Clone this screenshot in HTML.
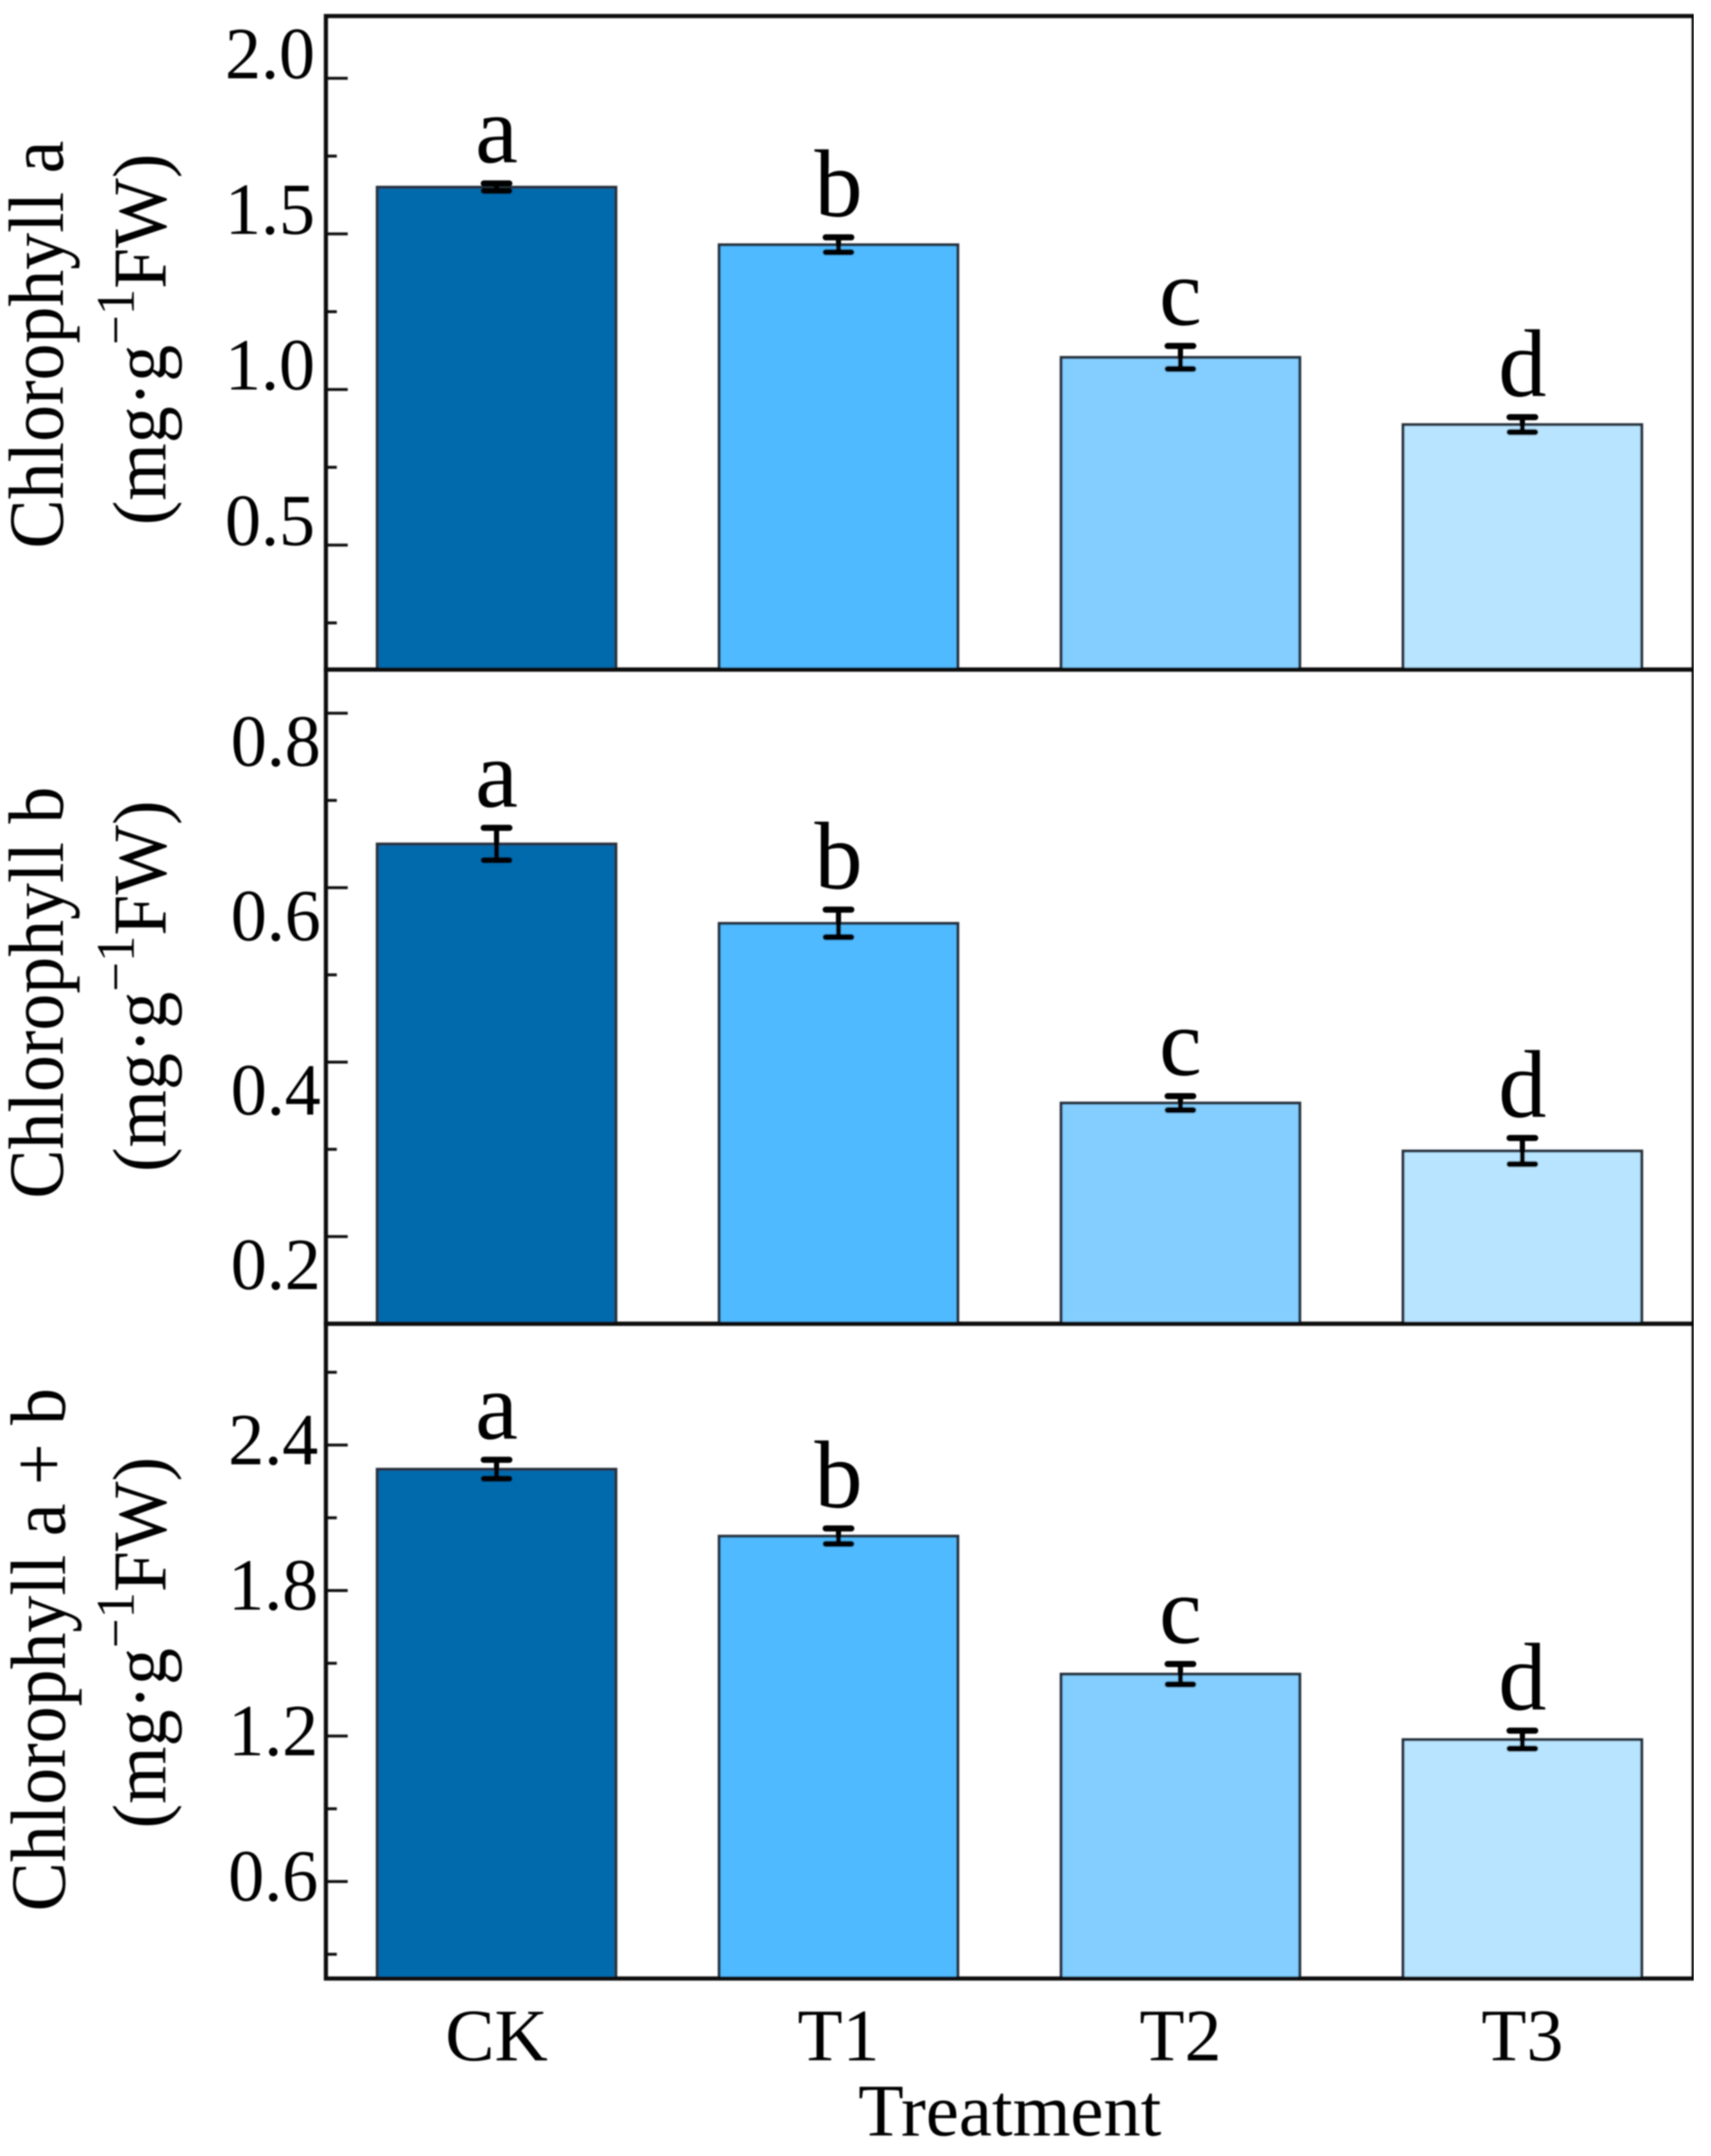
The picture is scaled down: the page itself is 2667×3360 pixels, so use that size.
<!DOCTYPE html>
<html lang="en">
<head>
<meta charset="utf-8">
<title>Chlorophyll content by treatment</title>
<style>
html,body{margin:0;padding:0;background:#fff;}
svg{display:block;}
text{font-family:"Liberation Serif",serif;fill:#000;}
</style>
</head>
<body>
<svg id="chart" xmlns="http://www.w3.org/2000/svg" width="2667" height="3360" viewBox="0 0 2667 3360">
  <defs><filter id="soft" x="0" y="0" width="100%" height="100%"><feGaussianBlur stdDeviation="1"/></filter></defs>
  <rect x="0" y="0" width="2667" height="3360" fill="#fff"/>
  <g filter="url(#soft)">
  <g id="panels"></g>

  <text transform="translate(98,537) rotate(-90) scale(1,1.06)" text-anchor="middle" font-size="115">Chlorophyll a</text>
  <text transform="translate(258,529) rotate(-90) scale(1,1.03)" text-anchor="middle" font-size="115">(mg·g<tspan font-size="82" dy="-48">−1</tspan><tspan dy="48">FW)</tspan></text>

  <text transform="translate(98,1547) rotate(-90) scale(1,1.06)" text-anchor="middle" font-size="115">Chlorophyll b</text>
  <text transform="translate(258,1537) rotate(-90) scale(1,1.03)" text-anchor="middle" font-size="115">(mg·g<tspan font-size="82" dy="-48">−1</tspan><tspan dy="48">FW)</tspan></text>

  <text transform="translate(101,2571) rotate(-90) scale(1,1.06)" text-anchor="middle" font-size="115">Chlorophyll a + b</text>
  <text transform="translate(258,2560) rotate(-90) scale(1,1.03)" text-anchor="middle" font-size="115">(mg·g<tspan font-size="82" dy="-48">−1</tspan><tspan dy="48">FW)</tspan></text>

  <text x="1574" y="3328" text-anchor="middle" font-size="116">Treatment</text>
  </g>
</svg>
<script>
const categories = ['CK', 'T1', 'T2', 'T3'];
const letters = ['a', 'b', 'c', 'd'];

const chlAValues = [1.65, 1.465, 1.103, 0.887];
const chlAErrors = [0.012, 0.024, 0.037, 0.024];
const chlATicks = [0.5, 1.0, 1.5, 2.0];
const chlAMinorTicks = [0.25, 0.75, 1.25, 1.75];
const chlATickLabels = ['0.5', '1.0', '1.5', '2.0'];

const chlBValues = [0.65, 0.559, 0.353, 0.298];
const chlBErrors = [0.0186, 0.0158, 0.008, 0.015];
const chlBTicks = [0.2, 0.4, 0.6, 0.8];
const chlBMinorTicks = [0.3, 0.5, 0.7];
const chlBTickLabels = ['0.2', '0.4', '0.6', '0.8'];

const chlABValues = [2.3, 2.024, 1.455, 1.185];
const chlABErrors = [0.039, 0.032, 0.042, 0.037];
const chlABTicks = [0.6, 1.2, 1.8, 2.4];
const chlABMinorTicks = [0.3, 0.9, 1.5, 2.1, 2.7];
const chlABTickLabels = ['0.6', '1.2', '1.8', '2.4'];

const barColors = ['#006aad', '#4fbaff', '#83ceff', '#b8e4ff'];

const NS = 'http://www.w3.org/2000/svg';
const root = document.getElementById('panels');

const panels = [
  {key:'chlorophyll-a', values:chlAValues, errors:chlAErrors, ticks:chlATicks, minor:chlAMinorTicks, labels:chlATickLabels,
   min:0.1, max:2.2, top:25, bottom:1043.5, labelX:491, labelDy:0},
  {key:'chlorophyll-b', values:chlBValues, errors:chlBErrors, ticks:chlBTicks, minor:chlBMinorTicks, labels:chlBTickLabels,
   min:0.1, max:0.85, top:1043.5, bottom:2063, labelX:500, labelDy:82},
  {key:'chlorophyll-a-plus-b', values:chlABValues, errors:chlABErrors, ticks:chlABTicks, minor:chlABMinorTicks, labels:chlABTickLabels,
   min:0.2, max:2.9, top:2063, bottom:3083.4, labelX:496, labelDy:30}
];

const AXIS_L = 508, AXIS_R = 2640;
const BAR_W = 372;
const xCenter = i => 774 + i * 533;

function make(tag, attrs, parent) {
  const el = document.createElementNS(NS, tag);
  for (const k in attrs) el.setAttribute(k, attrs[k]);
  parent.appendChild(el);
  return el;
}

panels.forEach(p => {
  const y = v => p.bottom - (v - p.min) / (p.max - p.min) * (p.bottom - p.top);

  const g = make('g', {}, root);
  
  

  p.values.forEach((v, i) => {
    const top = y(v);
    const bar = make('rect', {x: xCenter(i) - BAR_W / 2, y: top, width: BAR_W, height: p.bottom - top,
      fill: barColors[i], stroke: '#25333e', 'stroke-width': 4.5}, g);
    
    
  });

  p.values.forEach((v, i) => {
    const hi = y(v + p.errors[i]), lo = y(v - p.errors[i]), cx = xCenter(i);
    const eg = make('g', {stroke: '#000', fill: 'none', 'stroke-linecap': 'round'}, g);
    
    
    make('line', {x1: cx, x2: cx, y1: hi, y2: lo, 'stroke-width': 8, 'stroke-linecap': 'butt'}, eg);
    make('line', {x1: cx - 20, x2: cx + 20, y1: hi, y2: hi, 'stroke-width': 9.5}, eg);
    make('line', {x1: cx - 20, x2: cx + 20, y1: lo, y2: lo, 'stroke-width': 9.5}, eg);

    const t = make('text', {x: cx, y: hi - 33, 'text-anchor': 'middle', 'font-size': 150}, g);
    t.textContent = letters[i];
    
    
  });

  p.minor.forEach(v => {
    const tick = make('line', {x1: AXIS_L, x2: 525, y1: y(v), y2: y(v), stroke: '#111', 'stroke-width': 4.5}, g);
    
    
  });

  p.ticks.forEach((v, i) => {
    const tick = make('line', {x1: AXIS_L, x2: 542, y1: y(v), y2: y(v), stroke: '#111', 'stroke-width': 4.5}, g);
    
    
    const t = make('text', {transform: 'translate(' + p.labelX + ',' + (y(v) + p.labelDy) + ') scale(1.02,1.04)', 'text-anchor': 'end', 'font-size': 110}, g);
    t.textContent = p.labels[i];
    
    
  });

  const frame = make('rect', {x: AXIS_L, y: p.top, width: AXIS_R - AXIS_L, height: p.bottom - p.top,
    fill: 'none', stroke: '#111', 'stroke-width': 6.5}, g);
  
  
});

categories.forEach((c, i) => {
  const t = make('text', {x: xCenter(i), y: 3211, 'text-anchor': 'middle', 'font-size': 115}, root);
  t.textContent = c;
  
  
});
</script>
</body>
</html>
